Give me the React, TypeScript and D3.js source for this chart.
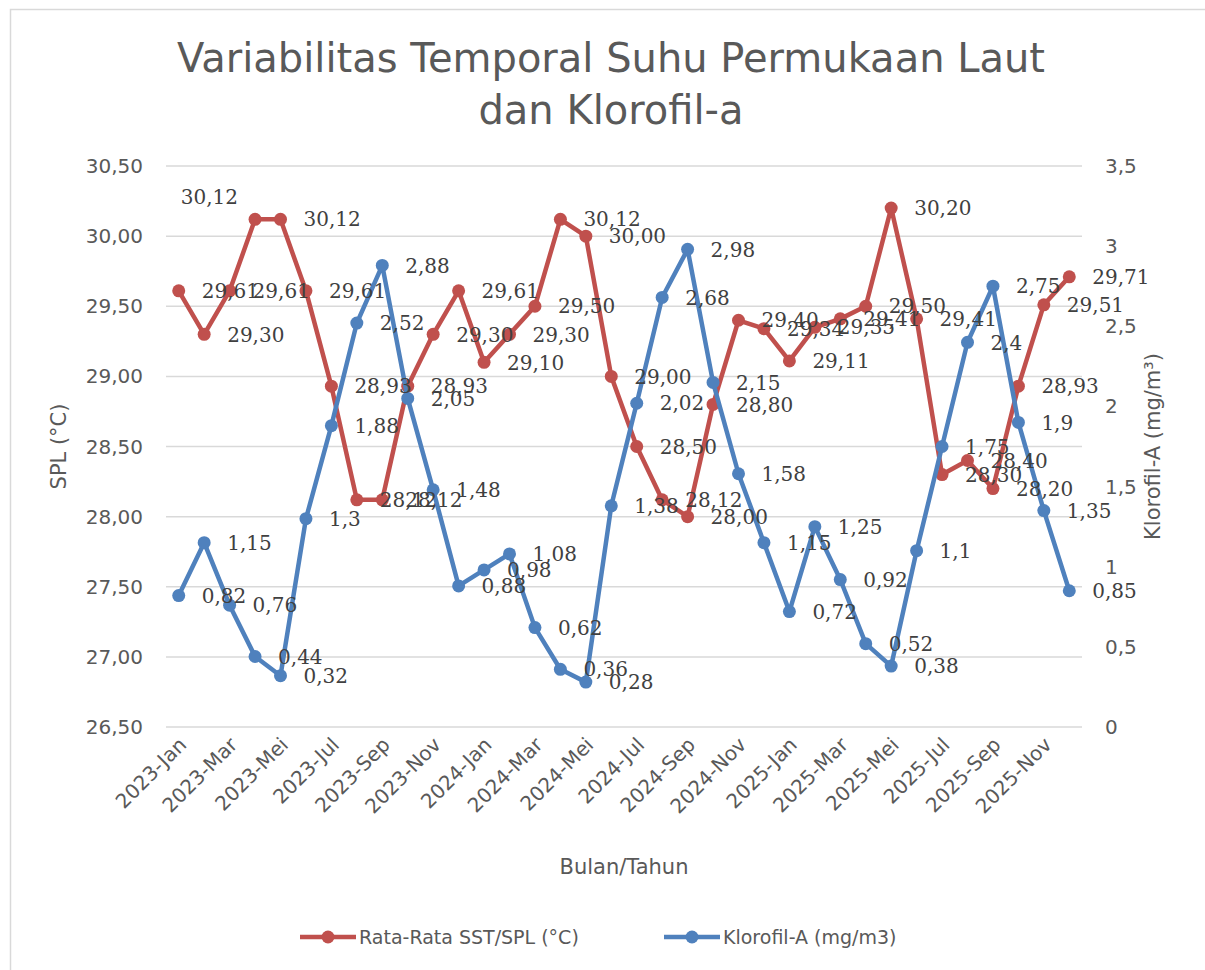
import React, { useEffect, useRef } from 'react';
import * as d3 from 'd3';

const MONTHS = ['Jan', 'Feb', 'Mar', 'Apr', 'Mei', 'Jun', 'Jul', 'Agu', 'Sep', 'Okt', 'Nov', 'Des'];
const YEARS = [2023, 2024, 2025];
const categories = YEARS.flatMap(y => MONTHS.map(m => `${y}-${m}`));

const sstValues = [
  29.61, 29.30, 29.61, 30.12, 30.12, 29.61, 28.93, 28.12, 28.12, 28.93, 29.30, 29.61,
  29.10, 29.30, 29.50, 30.12, 30.00, 29.00, 28.50, 28.12, 28.00, 28.80, 29.40, 29.34,
  29.11, 29.35, 29.41, 29.50, 30.20, 29.41, 28.30, 28.40, 28.20, 28.93, 29.51, 29.71,
];

const chlValues = [
  0.82, 1.15, 0.76, 0.44, 0.32, 1.3, 1.88, 2.52, 2.88, 2.05, 1.48, 0.88,
  0.98, 1.08, 0.62, 0.36, 0.28, 1.38, 2.02, 2.68, 2.98, 2.15, 1.58, 1.15,
  0.72, 1.25, 0.92, 0.52, 0.38, 1.1, 1.75, 2.4, 2.75, 1.9, 1.35, 0.85,
];

const leftTicks = [26.5, 27, 27.5, 28, 28.5, 29, 29.5, 30, 30.5];
const rightTicks = [0, 0.5, 1, 1.5, 2, 2.5, 3, 3.5];

const RED = '#C0504D';
const BLUE = '#4F81BD';
const SANS = '"DejaVu Sans", sans-serif';
const SERIF = '"DejaVu Serif", serif';

const App: React.FC = () => {
  const svgRef = useRef<SVGSVGElement>(null);

  useEffect(() => {
    document.body.style.margin = '0';
    const svg = d3.select(svgRef.current);
    svg.selectAll('*').remove();

    const width = 1205;
    const height = 970;
    const plotLeft = 166;
    const plotRight = 1082;
    const plotTop = 166;
    const plotBottom = 727;

    // chart frame
    svg.append('rect')
      .attr('x', 10.5).attr('y', 9.5)
      .attr('width', width).attr('height', height)
      .attr('fill', 'white')
      .attr('stroke', '#D9D9D9')
      .attr('stroke-width', 1.5);

    const x = d3.scalePoint<string>()
      .domain(categories)
      .range([plotLeft, plotRight])
      .padding(0.5);

    const yLeft = d3.scaleLinear().domain([26.5, 30.5]).range([plotBottom, plotTop]);
    const yRight = d3.scaleLinear().domain([0, 3.5]).range([plotBottom, plotTop]);

    const comma = (v: number, digits?: number) =>
      (digits === undefined ? String(v) : v.toFixed(digits)).replace('.', ',');

    // grid lines
    svg.append('g')
      .selectAll('line')
      .data(leftTicks)
      .join('line')
      .attr('x1', plotLeft).attr('x2', plotRight)
      .attr('y1', d => yLeft(d)).attr('y2', d => yLeft(d))
      .attr('stroke', '#D9D9D9')
      .attr('stroke-width', 1.5);

    // left tick labels
    svg.append('g')
      .selectAll('text')
      .data(leftTicks)
      .join('text')
      .attr('x', 143)
      .attr('y', d => yLeft(d))
      .attr('dy', '0.35em')
      .attr('text-anchor', 'end')
      .attr('font-family', SANS)
      .attr('font-size', 20)
      .attr('fill', '#595959')
      .text(d => comma(d, 2));

    // right tick labels
    svg.append('g')
      .selectAll('text')
      .data(rightTicks)
      .join('text')
      .attr('x', 1105)
      .attr('y', d => yRight(d))
      .attr('dy', '0.35em')
      .attr('text-anchor', 'start')
      .attr('font-family', SANS)
      .attr('font-size', 20)
      .attr('fill', '#595959')
      .text(d => comma(d));

    // x tick labels (every second month)
    svg.append('g')
      .selectAll('text')
      .data(categories.filter((_, i) => i % 2 === 0))
      .join('text')
      .attr('transform', d => `translate(${(x(d) as number) + 4},${plotBottom + 14}) rotate(-45)`)
      .attr('text-anchor', 'end')
      .attr('dy', '0.35em')
      .attr('font-family', SANS)
      .attr('font-size', 20)
      .attr('fill', '#595959')
      .text(d => d);

    // title
    const title = svg.append('text')
      .attr('text-anchor', 'middle')
      .attr('font-family', SANS)
      .attr('font-size', 40)
      .attr('fill', '#595959');
    title.append('tspan').attr('x', 611).attr('y', 72).text('Variabilitas Temporal Suhu Permukaan Laut');
    title.append('tspan').attr('x', 611).attr('y', 124).text('dan Klorofil-a');

    // axis titles
    svg.append('text')
      .attr('transform', `translate(66,${(plotTop + plotBottom) / 2}) rotate(-90)`)
      .attr('text-anchor', 'middle')
      .attr('font-family', SANS)
      .attr('font-size', 21)
      .attr('fill', '#595959')
      .text('SPL (°C)');

    svg.append('text')
      .attr('transform', `translate(1160,${(plotTop + plotBottom) / 2}) rotate(-90)`)
      .attr('text-anchor', 'middle')
      .attr('font-family', SANS)
      .attr('font-size', 21)
      .attr('fill', '#595959')
      .text('Klorofil-A (mg/m³)');

    svg.append('text')
      .attr('x', 624)
      .attr('y', 874)
      .attr('text-anchor', 'middle')
      .attr('font-family', SANS)
      .attr('font-size', 21)
      .attr('fill', '#595959')
      .text('Bulan/Tahun');

    // series
    const series = [
      { values: sstValues, y: yLeft, color: RED, fmt: (v: number) => comma(v, 2) },
      { values: chlValues, y: yRight, color: BLUE, fmt: (v: number) => comma(v) },
    ];

    series.forEach(s => {
      const line = d3.line<number>()
        .x((_, i) => x(categories[i]) as number)
        .y(d => s.y(d));

      svg.append('path')
        .datum(s.values)
        .attr('fill', 'none')
        .attr('stroke', s.color)
        .attr('stroke-width', 4.5)
        .attr('stroke-linejoin', 'round')
        .attr('d', line);

      svg.append('g')
        .selectAll('circle')
        .data(s.values)
        .join('circle')
        .attr('cx', (_, i) => x(categories[i]) as number)
        .attr('cy', d => s.y(d))
        .attr('r', 6.5)
        .attr('fill', s.color);
    });

    // data labels on top of both series
    series.forEach((s, si) => {
      svg.append('g')
        .selectAll('text')
        .data(s.values)
        .join('text')
        .attr('x', (_, i) => {
          const cx = x(categories[i]) as number;
          // 2023-Apr SST label sits up and to the left of its point
          return si === 0 && i === 3 ? cx - 17 : cx + 23;
        })
        .attr('y', (d, i) => (si === 0 && i === 3 ? s.y(d) - 22 : s.y(d)))
        .attr('dy', '0.36em')
        .attr('text-anchor', (_, i) => (si === 0 && i === 3 ? 'end' : 'start'))
        .attr('font-family', SERIF)
        .attr('font-size', 20)
        .attr('fill', '#404040')
        .text(d => s.fmt(d));
    });

    // legend
    const legendItems = [
      { label: 'Rata-Rata SST/SPL (°C)', color: RED, x: 300 },
      { label: 'Klorofil-A (mg/m3)', color: BLUE, x: 664 },
    ];
    const legend = svg.append('g').attr('transform', 'translate(0,937)');
    legendItems.forEach(item => {
      legend.append('line')
        .attr('x1', item.x).attr('x2', item.x + 56)
        .attr('y1', 0).attr('y2', 0)
        .attr('stroke', item.color)
        .attr('stroke-width', 4.5);
      legend.append('circle')
        .attr('cx', item.x + 28).attr('cy', 0)
        .attr('r', 6.5)
        .attr('fill', item.color);
      legend.append('text')
        .attr('x', item.x + 59)
        .attr('y', 0)
        .attr('dy', '0.35em')
        .attr('font-family', SANS)
        .attr('font-size', 19)
        .attr('fill', '#595959')
        .text(item.label);
    });
  }, []);

  return <svg ref={svgRef} width={1205} height={970} style={{ display: 'block' }} />;
};

export default App;
